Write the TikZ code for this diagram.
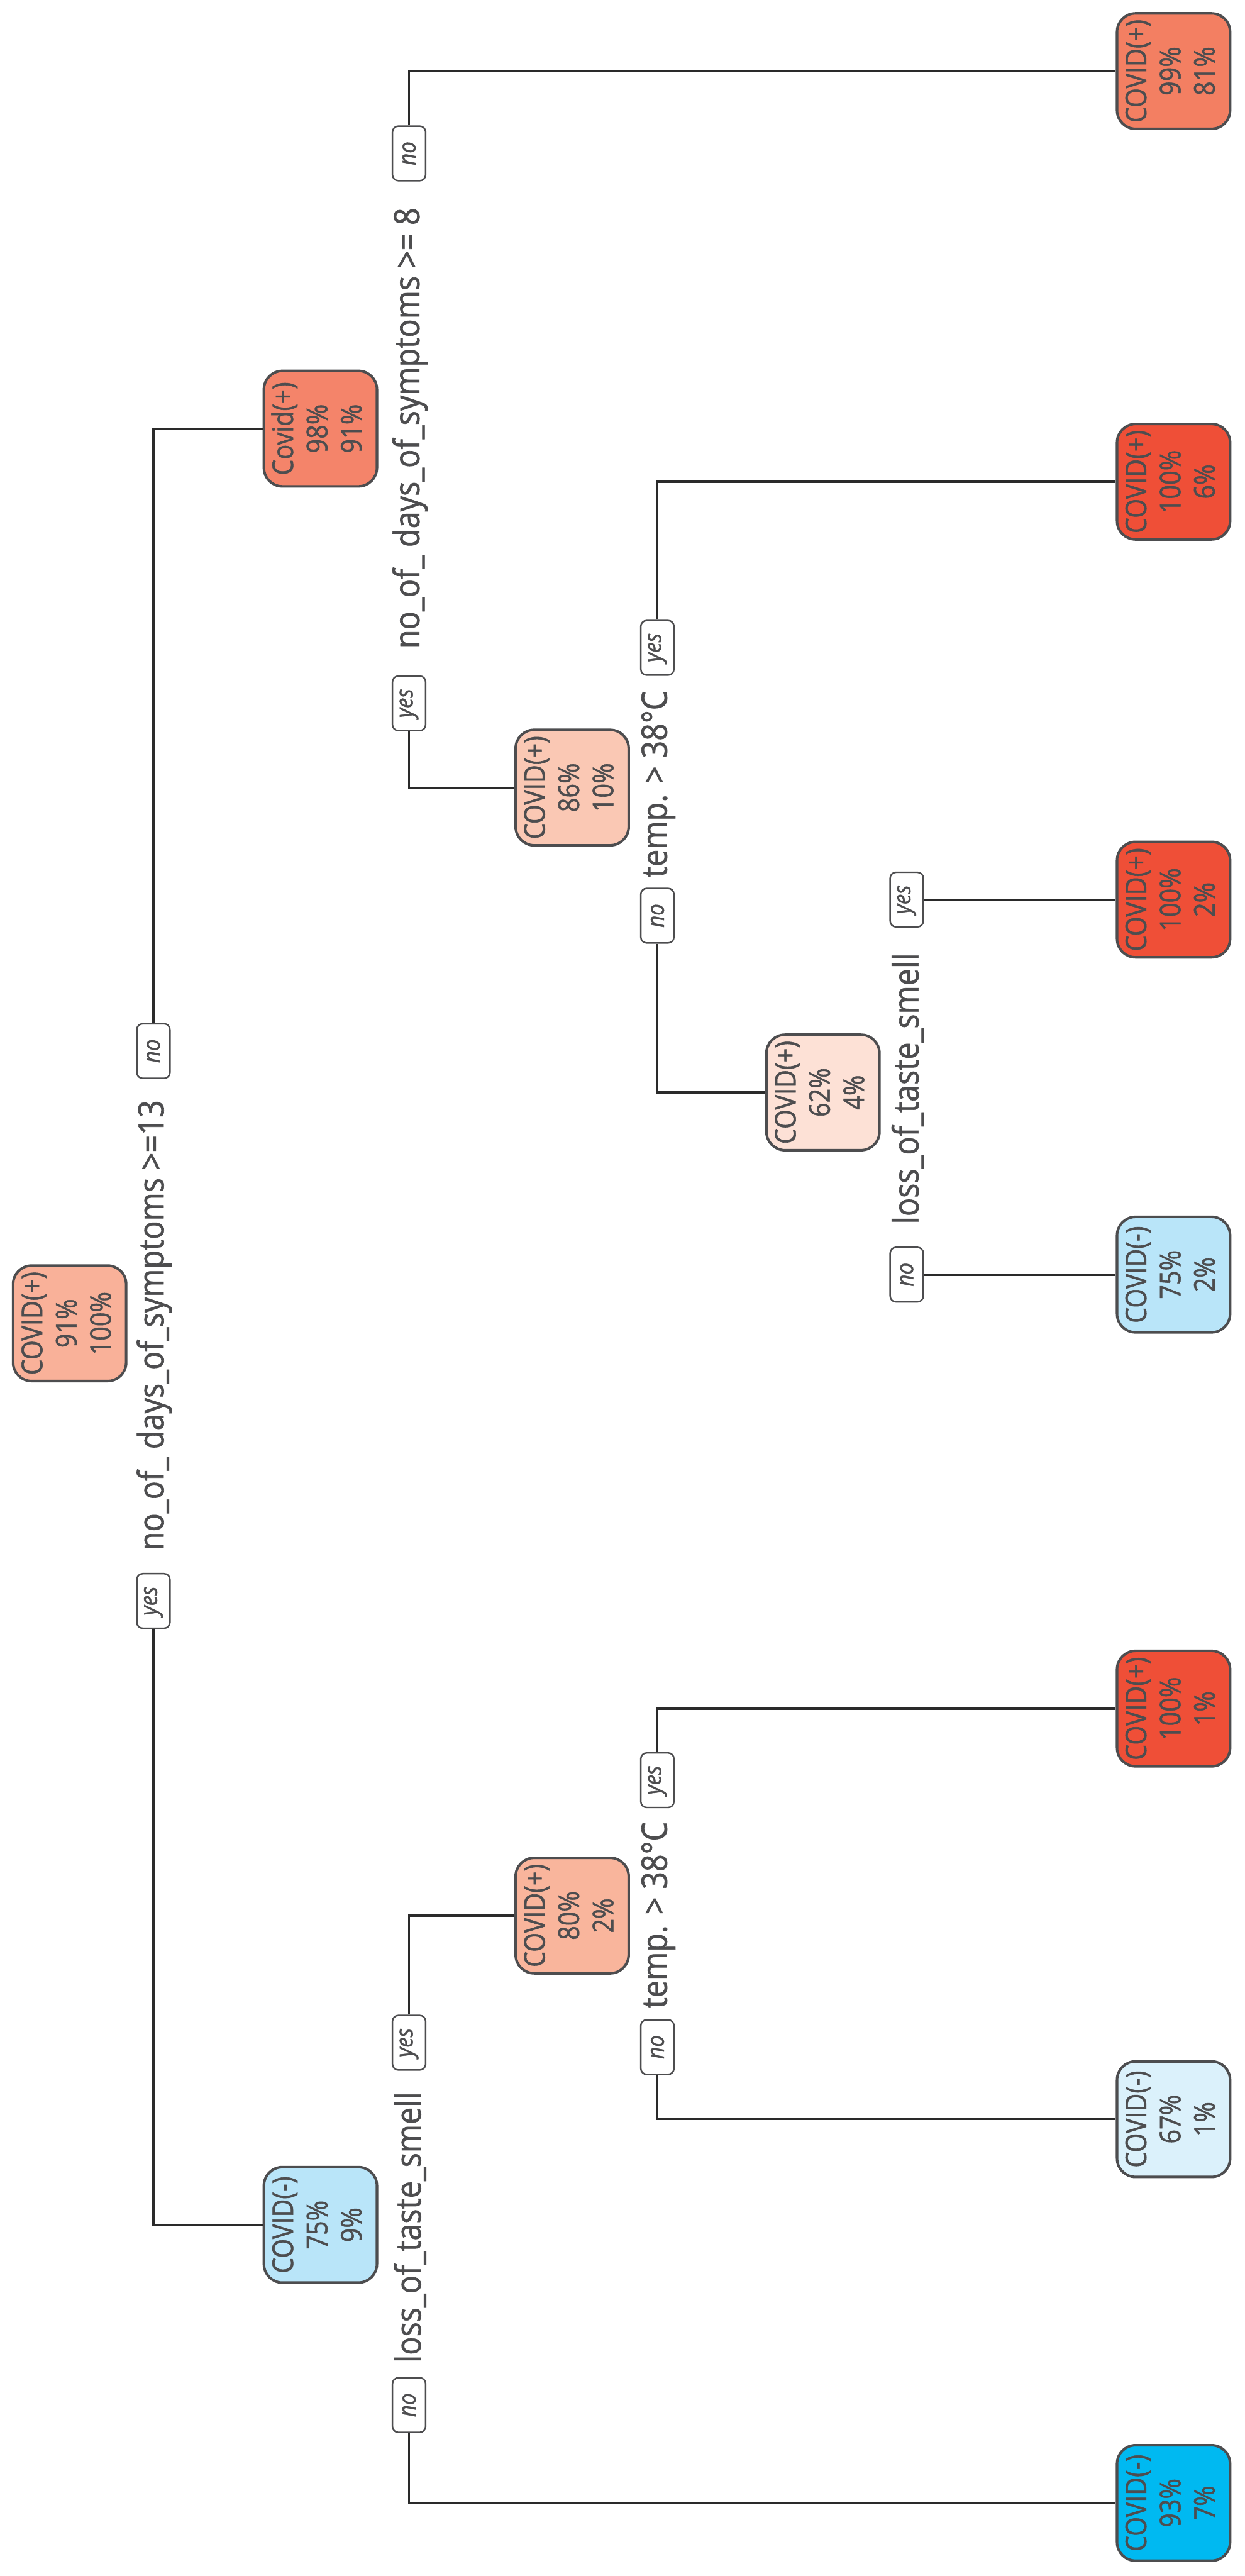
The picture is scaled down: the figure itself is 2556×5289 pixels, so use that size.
\documentclass[tikz,border=0pt]{standalone}
\usepackage{fontspec}
\setmainfont{Open Sans}[FakeStretch=0.87, FakeBold=1.2]
\usepackage{graphicx}
\usepackage{xcolor}
\usepackage{tikz}

\definecolor{edgegray}{HTML}{4D4D4F}
\definecolor{txtgray}{HTML}{4D4D4F}
\definecolor{linegray}{HTML}{2A2A2A}
\definecolor{rootc}{HTML}{F9B199}
\definecolor{covA}{HTML}{F4846A}
\definecolor{covB}{HTML}{B9E5F9}
\definecolor{covC}{HTML}{FAC8B4}
\definecolor{covD}{HTML}{F9B59C}
\definecolor{covE}{HTML}{FDE1D6}
\definecolor{leafA}{HTML}{F37F62}
\definecolor{leafred}{HTML}{EF4F37}
\definecolor{leafneg}{HTML}{DBF1FB}
\definecolor{leafdeep}{HTML}{00B9F1}

\newcommand{\rot}[1]{\rotatebox{90}{#1}}
\newcommand{\three}[3]{\rotatebox{90}{\begin{tabular}{@{}c@{}}#1\\#2\\#3\end{tabular}}}

\begin{document}
\begin{tikzpicture}[
  x=0.01cm, y=-0.01cm,
  tbox/.style={rectangle, draw=edgegray, line width=1.5pt,
               rounded corners=0.38cm, minimum width=2.32cm,
               minimum height=2.37cm, inner sep=0pt, text=txtgray,
               font=\fontsize{16.7}{20}\selectfont, fill=#1},
  tbox/.default={rootc},
  yn/.style={rectangle, draw=edgegray, line width=0.9pt,
             rounded corners=0.12cm, minimum width=0.68cm,
             minimum height=1.12cm, inner sep=0pt, fill=white,
             text=txtgray, font=\fontsize{14}{16}\selectfont\itshape},
  split/.style={inner sep=0pt, text=txtgray,
                font=\fontsize{20.5}{24}\selectfont},
  branch/.style={line width=1.3pt, color=linegray}
]
  \useasboundingbox (0,0) rectangle (2556,5289);

  % Root
  \node[tbox=rootc] (root) at (143,2717) {\three{COVID(+)}{91\%}{100\%}};
  \node[yn] (no1) at (315,2158) {\rot{no}};
  \node[split] (s1) at (317,2721) {\rot{no\_of\_ days\_of\_symptoms >=13}};
  \node[yn] (yes1) at (315,3287) {\rot{yes}};

  % Level 1
  \node[tbox=covA] (nA) at (658,880) {\three{Covid(+)}{98\%}{91\%}};
  \node[tbox=covB] (nB) at (658,4568) {\three{COVID(-)}{75\%}{9\%}};

  \node[yn] (noA) at (840,315) {\rot{no}};
  \node[split] (sA) at (842,879) {\rot{no\_of\_ days\_of\_symptoms >= 8}};
  \node[yn] (yesA) at (840,1444) {\rot{yes}};

  \node[yn] (yesB) at (840,4194) {\rot{yes}};
  \node[split] (sB) at (842,4573) {\rot{loss\_of\_taste\_smell}};
  \node[yn] (noB) at (840,4938) {\rot{no}};

  % Level 2
  \node[tbox=covC] (nC) at (1175,1617) {\three{COVID(+)}{86\%}{10\%}};
  \node[tbox=covD] (nD) at (1175,3933) {\three{COVID(+)}{80\%}{2\%}};

  \node[yn] (yesC) at (1350,1330) {\rot{yes}};
  \node[split] (sC) at (1352,1610) {\rot{temp. > 38°C}};
  \node[yn] (noC) at (1350,1880) {\rot{no}};

  \node[yn] (yesD) at (1350,3655) {\rot{yes}};
  \node[split] (sD) at (1352,3932) {\rot{temp. > 38°C}};
  \node[yn] (noD) at (1350,4203) {\rot{no}};

  % Level 3
  \node[tbox=covE] (nE) at (1690,2243) {\three{COVID(+)}{62\%}{4\%}};

  \node[yn] (yesE) at (1862,1847) {\rot{yes}};
  \node[split] (sE) at (1864,2235) {\rot{loss\_of\_taste\_smell}};
  \node[yn] (noE) at (1862,2617) {\rot{no}};

  % Leaves
  \node[tbox=leafA] (l1) at (2410,146) {\three{COVID(+)}{99\%}{81\%}};
  \node[tbox=leafred] (l2) at (2410,989) {\three{COVID(+)}{100\%}{6\%}};
  \node[tbox=leafred] (l3) at (2410,1847) {\three{COVID(+)}{100\%}{2\%}};
  \node[tbox=covB] (l4) at (2410,2617) {\three{COVID(-)}{75\%}{2\%}};
  \node[tbox=leafred] (l5) at (2410,3508) {\three{COVID(+)}{100\%}{1\%}};
  \node[tbox=leafneg] (l6) at (2410,4351) {\three{COVID(-)}{67\%}{1\%}};
  \node[tbox=leafdeep] (l7) at (2410,5139) {\three{COVID(-)}{93\%}{7\%}};

  % Branches
  \draw[branch] (no1.north) |- (nA.west);
  \draw[branch] (yes1.south) |- (nB.west);
  \draw[branch] (noA.north) |- (l1.west);
  \draw[branch] (yesA.south) |- (nC.west);
  \draw[branch] (yesB.north) |- (nD.west);
  \draw[branch] (noB.south) |- (l7.west);
  \draw[branch] (yesC.north) |- (l2.west);
  \draw[branch] (noC.south) |- (nE.west);
  \draw[branch] (yesD.north) |- (l5.west);
  \draw[branch] (noD.south) |- (l6.west);
  \draw[branch] (yesE.east) -- (l3.west);
  \draw[branch] (noE.east) -- (l4.west);
\end{tikzpicture}
\end{document}
